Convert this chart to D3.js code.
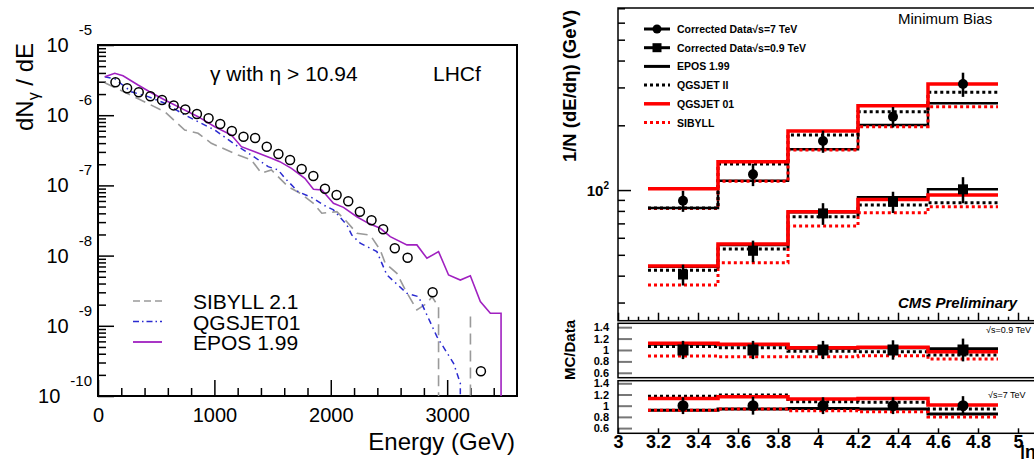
<!DOCTYPE html>
<html>
<head>
<meta charset="utf-8">
<script src="https://cdn.jsdelivr.net/npm/d3@7"></script>
<style>
body { margin: 0; background: #fff; }
svg { display: block; }
.axis .domain { display: none; }
</style>
</head>
<body>
<svg id="chart" width="1034" height="459"></svg>
<script>
// ---------- left: LHCf photon spectrum ----------
var lhcfE = [150,250,350,450,550,650,750,850,950,1050,1150,1250,1350,1450,1550,1650,1750,1850,1950,2050,2150,2250,2350,2450,2550,2660,2875,3290];
var lhcfV = [2.94e-6,2.42e-6,2.12e-6,1.86e-6,1.65e-6,1.38e-6,1.21e-6,1.04e-6,9.03e-7,7.49e-7,5.96e-7,4.94e-7,4.73e-7,3.56e-7,2.80e-7,2.30e-7,1.71e-7,1.36e-7,8.98e-8,7.30e-8,5.94e-8,4.22e-8,3.18e-8,2.37e-8,1.27e-8,9.33e-9,3.00e-9,2.25e-10];

var eposE = [58,144,215,344,458,574,716,860,1003,1146,1232,1347,1490,1562,1662,1777,1851,1923,2023,2109,2224,2324,2425,2511,2654,2740,2826,2926,3012,3113,3199,3285,3371,3463,3463];
var eposV = [3.53e-6,3.95e-6,3.65e-6,2.69e-6,2.09e-6,1.65e-6,1.25e-6,9.53e-7,6.86e-7,5.22e-7,3.56e-7,3.02e-7,2.43e-7,2.18e-7,1.75e-7,1.26e-7,8.80e-8,8.60e-8,5.55e-8,4.87e-8,3.58e-8,2.88e-8,2.45e-8,1.86e-8,1.42e-8,1.42e-8,9.15e-9,1.14e-8,5.30e-9,4.49e-9,5.17e-9,2.21e-9,1.51e-9,1.51e-9,1e-10];

var qgsE = [58,144,286,430,574,745,860,1003,1204,1318,1462,1548,1600,1720,1851,1937,2023,2138,2181,2253,2396,2482,2654,2754,2912,3055,3113,3113];
var qgsV = [3.53e-6,3.3e-6,2.16e-6,1.84e-6,1.48e-6,1.01e-6,8.08e-7,6.15e-7,3.56e-7,2.71e-7,1.85e-7,1.66e-7,1.30e-7,8.13e-8,6.55e-8,5.26e-8,4.47e-8,2.73e-8,1.96e-8,1.50e-8,1.14e-8,5.30e-9,2.90e-9,2.60e-9,7.0e-10,2.92e-10,1.52e-10,1e-10];

var sibE = [58,350,574,745,860,974,1204,1318,1404,1490,1634,1737,1851,1923,2052,2138,2224,2339,2425,2468,2568,2640,2740,2826,2869,2926,2926,3200,3200,3200];
var sibV = [2.90e-6,1.70e-6,1.12e-6,6.15e-7,5.52e-7,3.98e-7,2.71e-7,2.30e-7,1.49e-7,1.66e-7,9.59e-8,7.71e-8,5.55e-8,4.01e-8,4.22e-8,3.04e-8,2.08e-8,1.96e-8,1.20e-8,7.77e-9,5.60e-9,3.24e-9,1.68e-9,2.09e-9,2.60e-9,1.87e-9,1e-10,null,1.36e-9,1e-10];

var leftXTicks = [0, 1000, 2000, 3000];
var leftYExp = [-10, -9, -8, -7, -6, -5];
var leftLegend = ["SIBYLL 2.1", "QGSJET01", "EPOS 1.99"];

// ---------- right: CMS forward energy flow ----------
var etaEdges = [3.15, 3.5, 3.85, 4.2, 4.55, 4.9];
var etaCenters = [3.325, 3.675, 4.025, 4.375, 4.725];

var data7 = [89.2, 118.3, 169.0, 219.3, 311.2];
var err7 = [10, 14, 20, 24, 40];
var data09 = [40.5, 52.2, 77.9, 88.2, 100.8];
var err09 = [4.5, 6, 9, 10, 14];

var epos7 = [82.5, 110.5, 154.6, 200.6, 253.0];
var qgsII7 = [82.5, 132.1, 180.3, 231.3, 284.7];
var qgs01_7 = [101.4, 135.4, 188.1, 246.6, 311.2];
var sib7 = [82.0, 110.0, 153.5, 197.0, 244.0];
var epos09 = [44.0, 55.6, 78.8, 92.5, 100.8];
var qgsII09 = [42.4, 53.2, 75.1, 85.2, 87.3];
var qgs01_09 = [44.4, 56.1, 79.3, 90.5, 94.8];
var sib09 = [36.2, 45.9, 68.0, 78.4, 83.6];

// MC / Data
var ratioData = [1, 1, 1, 1, 1];
var rErr09 = [0.16, 0.16, 0.16, 0.17, 0.2];
var rEpos09 = [1.10, 1.09, 1.03, 1.04, 1.02];
var rQgsII09 = [1.06, 1.04, 0.98, 0.97, 0.91];
var rQgs01_09 = [1.12, 1.10, 1.04, 1.05, 0.97];
var rSib09 = [0.895, 0.88, 0.88, 0.90, 0.84];
var rErr7 = [0.15, 0.16, 0.15, 0.15, 0.17];
var rEpos7 = [0.92, 0.94, 0.95, 0.94, 0.85];
var rQgsII7 = [1.17, 1.19, 1.07, 1.06, 0.94];
var rQgs01_7 = [1.13, 1.16, 1.12, 1.13, 1.01];
var rSib7 = [0.92, 0.94, 0.91, 0.89, 0.80];

var rightXTicks = [3, 3.2, 3.4, 3.6, 3.8, 4, 4.2, 4.4, 4.6, 4.8, 5];
var ratioYTicks = [0.6, 0.8, 1, 1.2, 1.4];
var rightLegend = ["Corrected Data\u221As=7 TeV", "Corrected Data\u221As=0.9 TeV", "EPOS 1.99", "QGSJET II", "QGSJET 01", "SIBYLL"];

var FONT = '"Liberation Sans", Arial, Helvetica, sans-serif';
var PURPLE = "#a020c0", BLUE = "#2a2ad0", GRAY = "#9a9a9a";

var svg = d3.select("#chart").attr("font-family", FONT);

// ================= LEFT PANEL =================
var lx = d3.scaleLinear().domain([0, 3600]).range([98, 517]);
var ly = d3.scaleLog().domain([1e-10, 1e-5]).range([396, 45]);
var L = svg.append("g");

var isDecade = function(v) { return Math.abs(Math.log10(v) - Math.round(Math.log10(v))) < 1e-9; };

function tickAxis(g, axis) {
  g.attr("class", "axis").call(axis);
  g.selectAll(".tick line").attr("stroke", "#000").attr("stroke-width", 1.5);
  return g;
}

tickAxis(L.append("g").attr("transform", "translate(98,0)"),
  d3.axisRight(ly).tickValues(ly.ticks().filter(function(v) { return !isDecade(v); })).tickSize(8).tickFormat(""));
tickAxis(L.append("g").attr("transform", "translate(98,0)"),
  d3.axisRight(ly).tickValues(leftYExp.map(function(e) { return Math.pow(10, e); })).tickSize(16).tickFormat(""));
tickAxis(L.append("g").attr("transform", "translate(0,396)"),
  d3.axisTop(lx).tickValues(d3.range(200, 3600, 200).filter(function(v) { return v % 1000; })).tickSize(8).tickFormat(""));
tickAxis(L.append("g").attr("transform", "translate(0,396)"),
  d3.axisTop(lx).tickValues(leftXTicks).tickSize(16).tickFormat(""));

// x labels
var lxl = L.append("g").attr("class", "axis").attr("transform", "translate(0,396)")
  .call(d3.axisBottom(lx).tickValues(leftXTicks).tickSize(0).tickPadding(12).tickFormat(d3.format("d")));
lxl.attr("font-size", 20).attr("font-family", FONT);

// y labels 10^n
L.selectAll("text.ylab").data(leftYExp).join("text")
  .attr("class", "ylab")
  .attr("x", 92).attr("y", function(d) { return ly(Math.pow(10, d)) + 7; })
  .attr("text-anchor", "end").attr("font-size", 20)
  .call(function(t) {
    t.append("tspan").text("10");
    t.append("tspan").attr("dx", 10).attr("dy", -17).attr("font-size", 15).text(function(d) { return d; });
  });

// frame
L.append("rect").attr("x", 98).attr("y", 45).attr("width", 419).attr("height", 351)
  .attr("fill", "none").attr("stroke", "#000").attr("stroke-width", 2);

// model curves
var lline = d3.line().defined(function(d) { return d[1] != null; })
  .x(function(d) { return lx(d[0]); }).y(function(d) { return ly(d[1]); });
function curve(E, V, color, dash, w) {
  L.append("path").datum(E.map(function(e, i) { return [e, V[i]]; }))
    .attr("d", lline).attr("fill", "none").attr("stroke", color)
    .attr("stroke-width", w).attr("stroke-dasharray", dash);
}
curve(sibE, sibV, GRAY, "11,6", 1.6);
curve(qgsE, qgsV, BLUE, "6,4,1.5,4", 1.5);
curve(eposE, eposV, PURPLE, null, 1.6);

// LHCf data
L.selectAll("circle.lhcf").data(lhcfE.map(function(e, i) { return [e, lhcfV[i]]; })).join("circle")
  .attr("class", "lhcf")
  .attr("cx", function(d) { return lx(d[0]); }).attr("cy", function(d) { return ly(d[1]); })
  .attr("r", 4.5).attr("fill", "none").attr("stroke", "#000").attr("stroke-width", 1.5);

// texts
L.append("text").attr("x", 210).attr("y", 81).attr("font-size", 21).text("\u03B3 with \u03B7 > 10.94");
L.append("text").attr("x", 433).attr("y", 81).attr("font-size", 21).text("LHCf");
L.append("text").attr("x", 515).attr("y", 450).attr("text-anchor", "end").attr("font-size", 24).text("Energy (GeV)");
L.append("text").attr("transform", "translate(33,87) rotate(-90)").attr("text-anchor", "middle").attr("font-size", 24)
  .call(function(t) {
    t.append("tspan").text("dN");
    t.append("tspan").attr("font-size", 16).attr("dy", 6).text("\u03B3");
    t.append("tspan").attr("dy", -6).text(" / dE");
  });

// legend
var legStyles = [[GRAY, "7,4", 1.6], [BLUE, "6,3,1.5,3", 1.5], [PURPLE, null, 1.8]];
leftLegend.forEach(function(name, i) {
  var y = 301 + i * 20.5;
  L.append("line").attr("x1", 133).attr("x2", 162).attr("y1", y).attr("y2", y)
    .attr("stroke", legStyles[i][0]).attr("stroke-dasharray", legStyles[i][1]).attr("stroke-width", legStyles[i][2]);
  L.append("text").attr("x", 193).attr("y", y + 8).attr("font-size", 21).text(name);
});

// ================= RIGHT PANEL =================
var rx = d3.scaleLinear().domain([3, 5.1]).range([618, 1038]);
var ry = d3.scaleLog().domain([24.7, 702]).range([320.7, 8]);
var r1 = d3.scaleLinear().domain([0.514, 1.468]).range([377.7, 323.3]);
var r2 = d3.scaleLinear().domain([0.507, 1.446]).range([433.3, 380.7]);
var R = svg.append("g").attr("font-weight", "bold");

// main y ticks
tickAxis(R.append("g").attr("transform", "translate(618,0)"),
  d3.axisRight(ry).tickValues(ry.ticks().filter(function(v) { return !isDecade(v); })).tickSize(7).tickFormat(""));
tickAxis(R.append("g").attr("transform", "translate(618,0)"),
  d3.axisRight(ry).tickValues([100]).tickSize(13).tickFormat(""));
R.append("text").attr("x", 609).attr("y", ry(100) + 6).attr("text-anchor", "end").attr("font-size", 15)
  .call(function(t) {
    t.append("tspan").text("10");
    t.append("tspan").attr("dy", -7).attr("font-size", 10).text("2");
  });

// main x ticks
var minorEta = d3.range(3, 5.1, 0.05).filter(function(v) { return Math.abs(v * 5 - Math.round(v * 5)) > 1e-6; });
tickAxis(R.append("g").attr("transform", "translate(0,320.7)"),
  d3.axisTop(rx).tickValues(minorEta).tickSize(4).tickFormat(""));
tickAxis(R.append("g").attr("transform", "translate(0,320.7)"),
  d3.axisTop(rx).tickValues(rightXTicks).tickSize(8).tickFormat(""));

// ratio y ticks + labels
[r1, r2].forEach(function(sc) {
  var g = tickAxis(R.append("g").attr("transform", "translate(618,0)"),
    d3.axisRight(sc).tickValues(ratioYTicks).tickSize(14).tickFormat(""));
  g.selectAll(".tick line").attr("stroke", "#777").attr("stroke-width", 2);
  R.append("g").attr("class", "axis").attr("transform", "translate(618,0)")
    .call(d3.axisLeft(sc).tickValues(ratioYTicks).tickSize(0).tickPadding(9).tickFormat(d3.format("~g")))
    .attr("font-size", 11).attr("font-family", FONT);
});
tickAxis(R.append("g").attr("transform", "translate(0,433.3)"),
  d3.axisTop(rx).tickValues(rightXTicks).tickSize(5).tickFormat(""));
R.append("g").attr("class", "axis").attr("transform", "translate(0,433.3)")
  .call(d3.axisBottom(rx).tickValues(rightXTicks).tickSize(0).tickPadding(2).tickFormat(d3.format("~g")))
  .attr("font-size", 18).attr("font-family", FONT);

// frames
R.append("rect").attr("x", 618).attr("y", 8).attr("width", 420).attr("height", 312.7)
  .attr("fill", "none").attr("stroke", "#000").attr("stroke-width", 1.5);
R.append("rect").attr("x", 618).attr("y", 323.3).attr("width", 420).attr("height", 54.4)
  .attr("fill", "none").attr("stroke", "#000").attr("stroke-width", 1.5);
R.append("rect").attr("x", 618).attr("y", 380.7).attr("width", 420).attr("height", 52.6)
  .attr("fill", "none").attr("stroke", "#000").attr("stroke-width", 1.5);

// histograms
function hist(ys, vals, color, dotted, w) {
  var pts = etaEdges.map(function(e, i) { return [e, vals[Math.min(i, vals.length - 1)]]; });
  R.append("path").datum(pts)
    .attr("d", d3.line().curve(d3.curveStepAfter).x(function(d) { return rx(d[0]); }).y(function(d) { return ys(d[1]); }))
    .attr("fill", "none").attr("stroke", color).attr("stroke-width", w)
    .attr("stroke-dasharray", dotted ? "3,3" : null);
}
function points(ys, vals, errs, shape, size) {
  var g = R.append("g");
  vals.forEach(function(v, i) {
    var cx = rx(etaCenters[i]);
    g.append("line").attr("x1", cx).attr("x2", cx).attr("y1", ys(v - errs[i])).attr("y2", ys(v + errs[i]))
      .attr("stroke", "#000").attr("stroke-width", 2.5);
    if (shape === "circle") g.append("circle").attr("cx", cx).attr("cy", ys(v)).attr("r", size / 2);
    else g.append("rect").attr("x", cx - size / 2).attr("y", ys(v) - size / 2).attr("width", size).attr("height", size);
  });
}

// main
hist(ry, epos7, "#000", false, 2.5);
hist(ry, sib7, "#ff0000", true, 3);
hist(ry, qgsII7, "#000", true, 3);
hist(ry, qgs01_7, "#ff0000", false, 3.5);
hist(ry, epos09, "#000", false, 2.5);
hist(ry, sib09, "#ff0000", true, 3);
hist(ry, qgsII09, "#000", true, 3);
hist(ry, qgs01_09, "#ff0000", false, 3.5);
points(ry, data7, err7, "circle", 10);
points(ry, data09, err09, "square", 10);

// ratio 0.9 TeV
hist(r1, rEpos09, "#000", false, 3);
hist(r1, rSib09, "#ff0000", true, 3);
hist(r1, rQgsII09, "#000", true, 3);
hist(r1, rQgs01_09, "#ff0000", false, 3.5);
points(r1, ratioData, rErr09, "square", 11);
// ratio 7 TeV
hist(r2, rEpos7, "#000", false, 3);
hist(r2, rSib7, "#ff0000", true, 3);
hist(r2, rQgsII7, "#000", true, 3);
hist(r2, rQgs01_7, "#ff0000", false, 3.5);
points(r2, ratioData, rErr7, "circle", 11);

// right legend
rightLegend.forEach(function(name, i) {
  var y = 29 + i * 18.7;
  var color = i === 4 || i === 5 ? "#ff0000" : "#000";
  var dotted = i === 3 || i === 5;
  R.append("line").attr("x1", 644).attr("x2", 670).attr("y1", y).attr("y2", y)
    .attr("stroke", color).attr("stroke-width", i === 4 ? 3.5 : 3).attr("stroke-dasharray", dotted ? "3,3" : null);
  if (i === 0) R.append("circle").attr("cx", 657).attr("cy", y).attr("r", 4.5);
  if (i === 1) R.append("rect").attr("x", 652.5).attr("y", y - 4.5).attr("width", 9).attr("height", 9);
  R.append("text").attr("x", 677).attr("y", y + 4).attr("font-size", 10.5).text(name);
});

// right texts
R.append("text").attr("x", 898).attr("y", 23.5).attr("font-size", 15).attr("font-weight", "normal").text("Minimum Bias");
R.append("text").attr("x", 898).attr("y", 308).attr("font-size", 15).attr("font-style", "italic").text("CMS Preliminary");
R.append("text").attr("x", 986).attr("y", 333).attr("font-size", 9).attr("font-weight", "normal").text("\u221As=0.9 TeV");
R.append("text").attr("x", 988).attr("y", 398).attr("font-size", 9).attr("font-weight", "normal").text("\u221As=7 TeV");
R.append("text").attr("transform", "translate(576,86) rotate(-90)").attr("text-anchor", "middle").attr("font-size", 18.5)
  .text("1/N (dE/d\u03B7) (GeV)");
R.append("text").attr("transform", "translate(575,350) rotate(-90)").attr("text-anchor", "middle").attr("font-size", 15)
  .text("MC/Data");
R.append("text").attr("x", 1020).attr("y", 458).attr("font-size", 18).text("|\u03B7|");
</script>
</body>
</html>
